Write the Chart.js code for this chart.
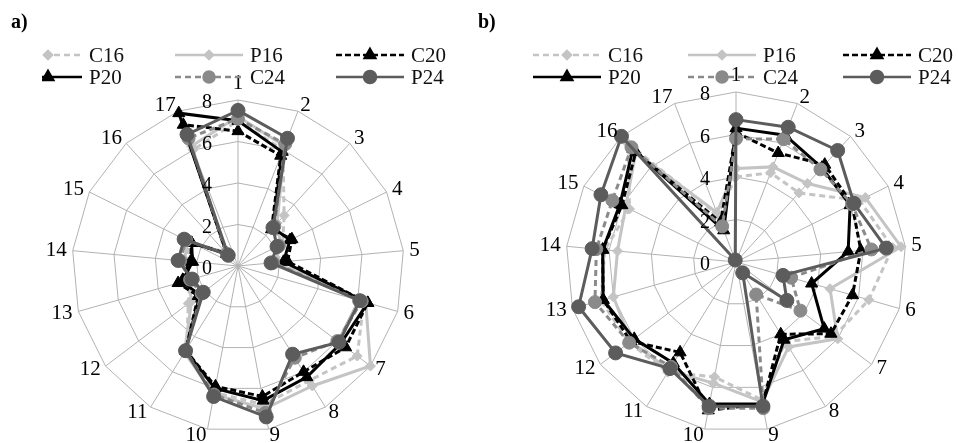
<!DOCTYPE html>
<html>
<head>
<meta charset="utf-8">
<script src="https://cdn.jsdelivr.net/npm/chart.js@4.4.0/dist/chart.umd.min.js"></script>
<style>
  body { margin: 0; background: #fff; width: 958px; height: 443px; overflow: hidden; position: relative; }
  .panel { position: absolute; top: 0; width: 479px; height: 443px; }
  #pa { left: 0; }
  #pb { left: 479px; }
  .tag { position: absolute; top: 11px; font: bold 20px "Liberation Serif", serif; line-height: 20px; color: #000; }
</style>
</head>
<body>
<div class="panel" id="pa"><canvas id="ca"></canvas></div>
<div class="panel" id="pb"><canvas id="cb"></canvas></div>
<div class="tag" style="left:11px">a)</div>
<div class="tag" style="left:478px">b)</div>
<script>
// axis categories and ticks
const axisLabels = ['1', '2', '3', '4', '5', '6', '7', '8', '9', '10', '11', '12', '13', '14', '15', '16', '17'];
const tickValues = [0, 2, 4, 6, 8];

// panel a)
const aC16 = [7.0, 6.0, 3.3, 2.4, 1.9, 6.3, 7.2, 6.5, 6.8, 6.2, 4.7, 3.0, 2.4, 2.5, 2.6, 0.9, 6.0];
const aP16 = [7.2, 6.2, 2.8, 2.3, 1.8, 6.4, 8.0, 6.8, 7.0, 6.3, 4.9, 2.8, 2.5, 2.6, 2.7, 0.8, 6.2];
const aC20 = [6.5, 5.7, 2.4, 2.9, 2.4, 6.5, 6.5, 6.0, 6.4, 5.9, 4.8, 2.4, 3.0, 2.3, 2.5, 0.8, 7.3];
const aP20 = [7.0, 5.9, 2.5, 2.8, 2.2, 6.5, 6.2, 6.3, 6.6, 6.0, 4.8, 2.3, 2.8, 2.2, 2.5, 0.8, 7.9];
const aC24 = [7.1, 6.3, 2.6, 2.2, 1.7, 6.2, 6.0, 5.2, 7.2, 6.3, 4.8, 2.2, 2.4, 2.8, 2.8, 0.8, 6.6];
const aP24 = [7.5, 6.6, 2.5, 2.1, 1.6, 6.1, 6.1, 5.0, 7.4, 6.4, 4.8, 2.1, 2.3, 2.9, 2.9, 0.7, 6.8];

// panel b)
const bC16 = [4.0, 4.5, 4.4, 6.5, 7.4, 6.5, 5.8, 4.4, 6.6, 5.5, 6.1, 6.3, 6.6, 6.2, 5.6, 7.5, 2.4];
const bP16 = [4.4, 4.8, 5.0, 6.8, 7.8, 4.6, 6.0, 4.7, 6.7, 5.8, 6.0, 6.2, 6.0, 5.6, 5.8, 7.0, 2.5];
const bC20 = [6.1, 5.5, 6.2, 6.1, 5.9, 5.7, 5.6, 4.0, 6.8, 7.1, 5.0, 6.2, 6.5, 6.3, 6.0, 7.0, 2.0];
const bP20 = [6.3, 6.4, 6.0, 6.0, 5.3, 3.7, 5.2, 4.3, 6.8, 6.8, 5.6, 6.0, 6.5, 6.3, 6.1, 7.2, 1.6];
const bC24 = [5.8, 6.2, 5.9, 6.1, 6.4, 2.7, 3.8, 1.8, 7.0, 7.0, 5.8, 6.3, 6.9, 6.6, 6.5, 7.3, 1.8];
const bP24 = [6.7, 6.8, 7.1, 6.2, 7.1, 2.3, 3.0, 0.6, 6.9, 6.9, 5.9, 7.1, 7.7, 6.8, 7.1, 8.0, 0.1];

const legendOrder = ['C16', 'P16', 'C20', 'P20', 'C24', 'P24'];

const styles = {
    C16: { color: '#c4c4c4', dash: [6, 4], point: 'rectRot', radius: 5 },
    P16: { color: '#c4c4c4', dash: [], point: 'rectRot', radius: 5 },
    C20: { color: '#000000', dash: [6, 3], point: 'triangle', radius: 7 },
    P20: { color: '#000000', dash: [], point: 'triangle', radius: 7 },
    C24: { color: '#8a8a8a', dash: [6, 4], point: 'circle', radius: 6.5 },
    P24: { color: '#5c5c5c', dash: [], point: 'circle', radius: 7 }
};

const serif = '"Liberation Serif", "Times New Roman", serif';

const buildDatasets = (series) => {
    // first entry ends up drawn on top
    return ['P24', 'C24', 'P20', 'C20', 'P16', 'C16'].map(name => {
        const s = styles[name];
        return {
            label: name,
            data: series[name],
            borderColor: s.color,
            backgroundColor: s.color,
            borderWidth: 3,
            borderDash: s.dash,
            fill: false,
            tension: 0,
            pointStyle: s.point,
            pointRadius: s.radius,
            pointBorderWidth: 1,
            pointBorderColor: s.color,
            pointBackgroundColor: s.color
        };
    });
};

// draws tick labels, axis labels and the legend
const decorPlugin = {
    id: 'decor',
    afterDraw(chart, args, opts) {
        const ctx = chart.ctx;
        const scale = chart.scales.r;
        const cx = scale.xCenter;
        const cy = scale.yCenter;
        const R = scale.drawingArea;

        ctx.save();
        ctx.fillStyle = '#000';

        // tick labels, left of the first axis
        ctx.font = '20px ' + serif;
        ctx.textAlign = 'right';
        ctx.textBaseline = 'middle';
        tickValues.forEach(v => {
            const y = cy - scale.getDistanceFromCenterForValue(v);
            ctx.fillText(String(v), cx - 26, y + 3);
        });

        // axis labels
        ctx.font = '21px ' + serif;
        axisLabels.forEach((lab, i) => {
            const ang = i * 2 * Math.PI / axisLabels.length;
            const s = Math.sin(ang);
            const p = scale.getPointPosition(i, R + 6);
            if (Math.abs(s) < 0.1) {
                ctx.textAlign = 'center';
                ctx.textBaseline = 'alphabetic';
                const v = scale.getPointPosition(i, R);
                ctx.fillText(lab, v.x, v.y - 11);
            } else {
                ctx.textAlign = s > 0 ? 'left' : 'right';
                ctx.textBaseline = 'middle';
                ctx.fillText(lab, p.x, p.y);
            }
        });

        // legend
        const cols = opts.cols;
        const rows = [55, 77];
        ctx.beginPath();
        ctx.rect(opts.clipX, 0, chart.width, chart.height);
        ctx.clip();
        legendOrder.forEach((name, k) => {
            const s = styles[name];
            const x0 = cols[k % 3];
            const y = rows[Math.floor(k / 3)];
            ctx.strokeStyle = s.color;
            ctx.fillStyle = s.color;
            ctx.lineWidth = 2.5;
            ctx.setLineDash(s.dash);
            ctx.beginPath();
            ctx.moveTo(x0, y);
            ctx.lineTo(x0 + 68, y);
            ctx.stroke();
            ctx.setLineDash([]);
            Chart.helpers.drawPoint(ctx, { pointStyle: s.point, radius: s.radius - 1, borderWidth: 1, rotation: 0 }, x0 + 34, y);
            ctx.fillStyle = '#111';
            ctx.font = '21px ' + serif;
            ctx.textAlign = 'left';
            ctx.textBaseline = 'middle';
            ctx.fillText(name, x0 + 75, y + 1);
        });
        ctx.restore();
    }
};

const makeRadar = (canvasId, series, padding, cols, clipX) => {
    return new Chart(document.getElementById(canvasId), {
        type: 'radar',
        data: {
            labels: axisLabels,
            datasets: buildDatasets(series)
        },
        options: {
            responsive: true,
            maintainAspectRatio: false,
            animation: false,
            layout: { padding: padding },
            plugins: {
                legend: { display: false },
                tooltip: { enabled: false },
                decor: { cols: cols, clipX: clipX }
            },
            scales: {
                r: {
                    min: 0,
                    max: 8,
                    ticks: { display: false, stepSize: 2 },
                    grid: { color: '#b2b2b2', lineWidth: 1 },
                    angleLines: { color: '#b2b2b2', lineWidth: 1 },
                    pointLabels: { display: false }
                }
            }
        },
        plugins: [decorPlugin]
    });
};

makeRadar('ca',
    { C16: aC16, P16: aP16, C20: aC20, P20: aP20, C24: aC24, P24: aP24 },
    { left: 72, right: 75, top: 100, bottom: 11 },
    [14, 175, 336], 42);

makeRadar('cb',
    { C16: bC16, P16: bP16, C20: bC20, P20: bP20, C24: bC24, P24: bP24 },
    { left: 87, right: 52, top: 92, bottom: 11 },
    [54, 209, 364], 0);
</script>
</body>
</html>
